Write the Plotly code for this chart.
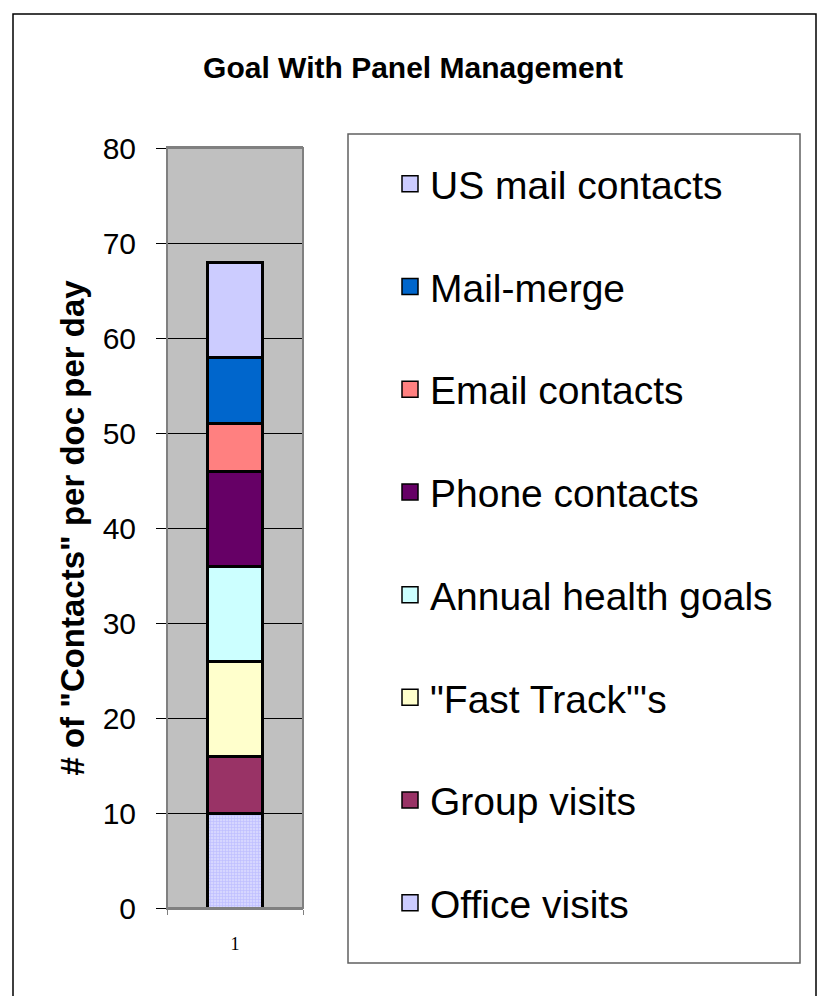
import plotly.graph_objects as go

# Contact categories, bottom of the stack first
categories = ["Office visits", "Group visits", "\"Fast Track\"'s", "Annual health goals",
              "Phone contacts", "Email contacts", "Mail-merge", "US mail contacts"]
values = [10, 6, 10, 10, 10, 5, 7, 10]
colors = ["#CCCCFF", "#993366", "#FFFFCC", "#CCFFFF",
          "#660066", "#FF8080", "#0066CC", "#CCCCFF"]
x_labels = ["1"]
y_ticks = [0, 10, 20, 30, 40, 50, 60, 70, 80]

fig = go.Figure()

# stacked segments
for i, (name, val, col) in enumerate(zip(categories, values, colors)):
    marker = dict(color=col, line=dict(color="black", width=3))
    if i == 0:
        marker["pattern"] = dict(shape="+", fgcolor="#A0A0FF", bgcolor="#D6D6FF",
                                 size=3, solidity=0.35)
    fig.add_trace(go.Bar(x=x_labels, y=[val], name=name, marker=marker,
                         showlegend=False, width=0.4))

# legend entries (top of the stack listed first) with larger square swatches
for name, col in zip(categories[::-1], colors[::-1]):
    fig.add_trace(go.Scatter(x=[None], y=[None], mode="markers", name=name,
                             legendgroup=name,
                             marker=dict(symbol="square", size=16, color=col,
                                         line=dict(color="black", width=1.5))))

W, H = 819, 996
L, R, T, B = 167, 303, 148, 908
pw, ph = R - L, B - T


def px_x(v):
    return (v - L) / pw


def px_y(v):
    return (B - v) / ph


fig.update_layout(
    width=W, height=H,
    margin=dict(l=L, r=W - R, t=T, b=H - B, autoexpand=False),
    paper_bgcolor="white",
    plot_bgcolor="#C0C0C0",
    barmode="stack",
    font=dict(family="Liberation Sans, Arial", color="black"),
    title=dict(text="<b>Goal With Panel Management</b>", x=413 / W, xref="container",
               xanchor="center", y=1 - 67 / H, yref="container", yanchor="middle",
               font=dict(size=30, color="black")),
    legend=dict(x=px_x(390), y=1 - 152 / H, yref="container", xanchor="left",
                yanchor="top", traceorder="grouped", tracegroupgap=49, maxheight=1,
                itemsizing="trace", bgcolor="rgba(0,0,0,0)", borderwidth=0,
                font=dict(size=39, color="black")),
    showlegend=True,
    xaxis=dict(type="category", range=[-0.5, 0.5], showgrid=False,
               showline=True, linecolor="#808080", linewidth=2, mirror=True,
               ticks="outside", tickson="boundaries", ticklen=5, tickcolor="#808080",
               ticklabelstandoff=18,
               tickfont=dict(family="Liberation Serif, Times New Roman", size=18),
               fixedrange=True),
    yaxis=dict(range=[0, 80], tickvals=y_ticks, showgrid=True, gridcolor="black",
               gridwidth=1, showline=True, linecolor="black", linewidth=1,
               ticks="outside", ticklen=10, tickcolor="black", ticklabelstandoff=14,
               tickfont=dict(size=30), zeroline=False,
               title=dict(text="<b># of \"Contacts\" per doc per day</b>",
                          font=dict(size=33), standoff=8)),
    shapes=[
        # plot area outline
        dict(type="rect", xref="paper", yref="paper", x0=0, x1=1, y0=0, y1=1,
             line=dict(color="#808080", width=2), layer="above"),
        # legend frame
        dict(type="rect", xref="paper", yref="paper", x0=px_x(348), x1=px_x(800),
             y0=px_y(963), y1=px_y(134), line=dict(color="#606060", width=1.5)),
        # outer chart frame
        dict(type="rect", xref="paper", yref="paper", x0=px_x(13), x1=px_x(816),
             y0=px_y(1010), y1=px_y(14), line=dict(color="black", width=1.5)),
    ],
)

fig.write_html("out.html")
